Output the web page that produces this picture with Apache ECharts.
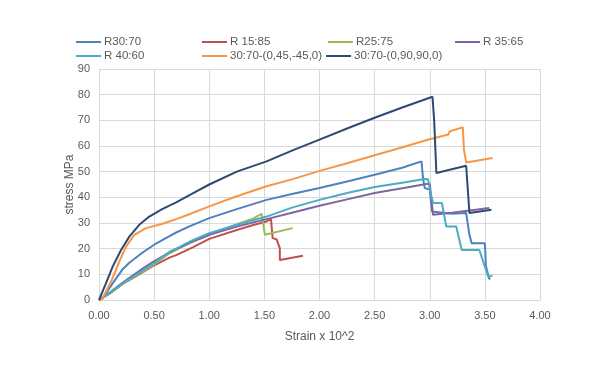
<!DOCTYPE html>
<html><head><meta charset="utf-8">
<script src="https://cdn.jsdelivr.net/npm/echarts@6/dist/echarts.min.js"></script>
<style>html,body{margin:0;padding:0;background:#fff}#c{width:601px;height:365px}</style>
</head><body><div id="c"></div>
<script>
const seriesNames = ['R30:70','R 15:85','R25:75','R 35:65','R 40:60','30:70-(0,45,-45,0)','30:70-(0,90,90,0)'];
const colors = ['#4f81bd','#c0504d','#9bbb59','#8064a2','#4bacc6','#f79646','#2c4a74'];

const r3070X = [0,0.03,0.124,0.215,0.275,0.396,0.517,0.644,0.70,0.825,1.0,1.25,1.52,1.75,2.0,2.25,2.5,2.75,2.925,2.94,2.955,3.0,3.02,3.2,3.33,3.36,3.38,3.5,3.51,3.54,3.55];
const r3070Y = [0,0.5,6.5,12,14.5,18.5,22,25,26.3,28.8,31.9,35.4,39,41.3,43.6,46.2,48.8,51.5,54,47,43.6,43,34.5,33.6,33.9,25.4,22.1,22.1,13,8.2,8.5];

const r1585X = [0,0.1,0.215,0.365,0.487,0.644,0.70,0.85,1.0,1.25,1.4,1.52,1.56,1.575,1.61,1.64,1.64,1.85];
const r1585Y = [0,2.6,6.3,10,13.2,16.6,17.5,20.5,23.8,27.3,29.2,30.6,31.5,24.1,23.7,20.2,15.6,17.2];

const r2575X = [0,0.1,0.215,0.365,0.487,0.644,0.70,0.85,1.0,1.25,1.4,1.475,1.49,1.505,1.756];
const r2575Y = [0,2.7,6.3,10.2,13.5,18.3,19.5,22.8,25.3,29.5,31.8,33.6,33.3,25.4,28.0];

const r3565X = [0,0.1,0.215,0.396,0.487,0.644,0.70,0.85,1.0,1.25,1.52,1.75,2.0,2.25,2.5,2.75,2.97,3.0,3.03,3.2,3.54];
const r3565Y = [0,3,6.8,12.2,14.8,18.7,19.8,22.8,25.4,28.6,31.5,34,36.7,39.2,41.7,43.5,45.2,45.3,33.2,34,35.8];

const r4060X = [0,0.1,0.215,0.365,0.487,0.644,0.70,0.85,1.0,1.25,1.52,1.75,2.0,2.25,2.5,2.75,2.955,2.985,3.0,3.03,3.11,3.15,3.24,3.29,3.45,3.53,3.57];
const r4060Y = [0,2.8,6.5,10.6,14,18.9,20,23.3,26,29.3,32.5,36,39,41.7,44,45.7,47.1,47,43,37.8,37.8,28.6,28.6,19.5,19.5,9.1,9.5];

const o4545X = [0,0.03,0.11,0.184,0.245,0.32,0.426,0.577,0.70,0.825,1.0,1.25,1.52,1.75,2.0,2.25,2.5,2.73,2.99,3.17,3.18,3.30,3.31,3.33,3.57];
const o4545Y = [0,0.5,7.2,15,20.8,25.4,28,29.7,31.5,33.5,36.5,40.4,44.3,47,50.3,53.3,56.4,59.2,62.5,64.5,65.7,67.3,58.6,53.6,55.3];

const o9090X = [0,0.063,0.124,0.2,0.275,0.365,0.456,0.577,0.70,0.825,1.0,1.25,1.52,1.75,2.0,2.25,2.5,2.75,3.025,3.04,3.06,3.33,3.36,3.56];
const o9090Y = [0,6.5,13,19.5,24.7,29.3,32.5,35.5,38,41,45,50,54,58.2,62.5,66.8,71,75,79.2,70,49.5,52.3,33.9,35.2];

const xTicks = {min:0, max:4, interval:0.5};
const yTicks = {min:0, max:90, interval:10};

const allX = [r3070X,r1585X,r2575X,r3565X,r4060X,o4545X,o9090X];
const allY = [r3070Y,r1585Y,r2575Y,r3565Y,r4060Y,o4545Y,o9090Y];

const legendPos = [[76,36],[202,36],[328,36],[455,36],[76,50],[202,50],[326,50]];

const font = 'Liberation Sans, Arial, sans-serif';
const chart = echarts.init(document.getElementById('c'), null, {renderer:'canvas'});
chart.setOption({
  animation:false,
  backgroundColor:'#fff',
  color: colors,
  legend: seriesNames.map((n,i)=>({
    data:[{name:n, icon:'rect'}], left:legendPos[i][0], top:legendPos[i][1], padding:0,
    itemWidth:25, itemHeight:2,
    textStyle:{color:'#595959', fontSize:11.5, fontFamily:font, padding:[0,0,0,-2]}
  })),
  grid:{left:99, right:61, top:69, bottom:65},
  xAxis:{type:'value', min:xTicks.min, max:xTicks.max, interval:xTicks.interval,
    name:'Strain x 10^2', nameLocation:'middle', nameGap:31, nameMoveOverlap:false,
    nameTextStyle:{color:'#595959', fontSize:12, fontFamily:font},
    axisLine:{show:true, lineStyle:{color:'#d9d9d9'}}, axisTick:{show:false},
    axisLabel:{color:'#595959', fontSize:11, fontFamily:font, margin:10, formatter:v=>v.toFixed(2)},
    splitLine:{show:true, lineStyle:{color:'#d9d9d9'}}},
  yAxis:{type:'value', min:yTicks.min, max:yTicks.max, interval:yTicks.interval,
    name:'stress MPa', nameLocation:'middle', nameGap:23, nameRotate:90, nameMoveOverlap:false,
    nameTextStyle:{color:'#595959', fontSize:12, fontFamily:font},
    axisLine:{show:true, lineStyle:{color:'#d9d9d9'}}, axisTick:{show:false},
    axisLabel:{color:'#595959', fontSize:11, fontFamily:font, margin:9},
    splitLine:{show:true, lineStyle:{color:'#d9d9d9'}}},
  series: seriesNames.map((n,i)=>({
    name:n, type:'line', symbol:'none', showSymbol:false,
    lineStyle:{width:2, color:colors[i]}, itemStyle:{color:colors[i]},
    data: allX[i].map((x,j)=>[x, allY[i][j]])
  }))
});
</script></body></html>
